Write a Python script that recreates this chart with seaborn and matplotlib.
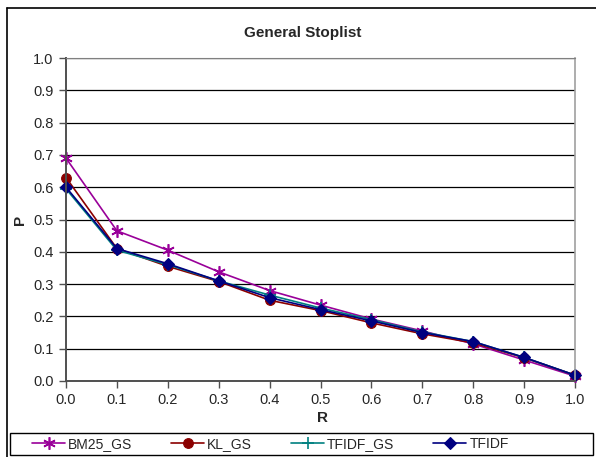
import matplotlib
matplotlib.use("Agg")
import matplotlib.pyplot as plt
import seaborn as sns
import pandas as pd
from matplotlib.patches import Rectangle
from matplotlib.lines import Line2D

recall = [0.0, 0.1, 0.2, 0.3, 0.4, 0.5, 0.6, 0.7, 0.8, 0.9, 1.0]
bm25_gs = [0.69, 0.465, 0.405, 0.338, 0.280, 0.235, 0.192, 0.155, 0.115, 0.065, 0.015]
kl_gs = [0.63, 0.410, 0.355, 0.308, 0.250, 0.218, 0.180, 0.146, 0.118, 0.072, 0.018]
tfidf_gs = [0.595, 0.405, 0.360, 0.310, 0.266, 0.226, 0.190, 0.152, 0.122, 0.073, 0.018]
tfidf = [0.600, 0.410, 0.363, 0.310, 0.258, 0.221, 0.186, 0.150, 0.122, 0.073, 0.018]
series_names = ["BM25_GS", "KL_GS", "TFIDF_GS", "TFIDF"]

df = pd.DataFrame({
    "R": recall * 4,
    "P": bm25_gs + kl_gs + tfidf_gs + tfidf,
    "series": sum([[n] * len(recall) for n in series_names], []),
})

sns.set_style("white")
plt.rcParams['font.family'] = ['Liberation Sans', 'DejaVu Sans']

W, H = 596, 457
fig = plt.figure(figsize=(W / 100, H / 100), dpi=100)
ax = fig.add_axes([66/W, 1-381/H, (575-66)/W, (381-58)/H])

palette = {"BM25_GS": "#990099", "KL_GS": "#8B0000", "TFIDF_GS": "#008080", "TFIDF": "#000080"}
styles = {"BM25_GS": dict(marker=(6, 2, 0), ms=9, mew=1.2),
          "KL_GS": dict(marker="o", ms=7, mew=0.8),
          "TFIDF_GS": dict(marker="+", ms=9, mew=1.2),
          "TFIDF": dict(marker="D", ms=6.5, mew=0.8)}

for name in series_names:
    sub = df[df.series == name]
    sns.lineplot(data=sub, x="R", y="P", ax=ax, color=palette[name], lw=1.2,
                 label=name, markeredgecolor=palette[name], clip_on=False, **styles[name])

ax.set_xlim(0, 1.0)
ax.set_ylim(0, 1.0)
ax.set_xticks(recall)
ax.set_xticklabels([f"{v:.1f}" for v in recall])
ax.set_yticks([i / 10 for i in range(11)])
ax.set_yticklabels([f"{i/10:.1f}" for i in range(11)])
ax.grid(axis="y", color="black", lw=0.9)
ax.set_axisbelow(True)
ax.spines["top"].set_color("#808080")
ax.spines["right"].set_color("#a0a0a0")
ax.spines["right"].set_linewidth(1.2)
for s in ["left", "bottom"]:
    ax.spines[s].set_color("#505050")
    ax.spines[s].set_linewidth(1.4)
ax.tick_params(axis="both", direction="out", length=5, width=1, color="#505050",
               labelsize=10.5, left=True, bottom=True, pad=4)
ax.set_xlabel("")
ax.set_ylabel("")
fig.text(20/W, 1-220/H, "P", rotation=90, ha="center", va="center",
         fontsize=11, fontweight="bold")
fig.text(322/W, 1-418/H, "R", ha="center", va="center", fontsize=11, fontweight="bold")
fig.text(303/W, 1-33/H, "General Stoplist", ha="center", va="center",
         fontsize=11, fontweight="bold")

ax.get_legend().remove()
handles, labels = ax.get_legend_handles_labels()
fs = 10
px_per_em = fs * 100 / 72
leg = fig.legend(handles, labels, ncol=4, loc="center left",
                 bbox_to_anchor=(32/W, 1-444/H), frameon=False, fontsize=fs,
                 handlelength=33/px_per_em, handletextpad=3/px_per_em,
                 columnspacing=39/px_per_em, borderaxespad=0, borderpad=0)

fig.patches.append(Rectangle((10/W, 1-455/H), 583/W, 22/H, transform=fig.transFigure,
                             fill=False, edgecolor="black", lw=1.0))
fig.lines.append(Line2D([6.5/W, 6.5/W], [0, 1-8/H], transform=fig.transFigure,
                        color="black", lw=1.2))
fig.lines.append(Line2D([6.5/W, 1], [1-8/H, 1-8/H], transform=fig.transFigure,
                        color="black", lw=1.2))

fig.savefig("out.png", dpi=100)
